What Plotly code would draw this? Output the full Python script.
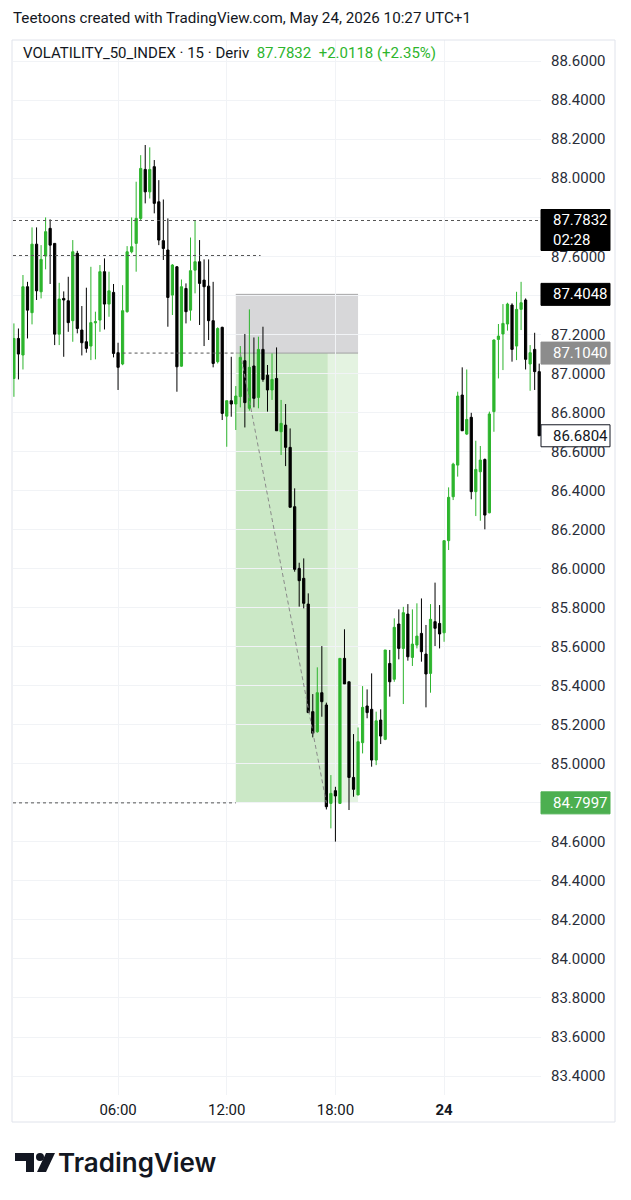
import plotly.graph_objects as go
import pandas as pd

# ---------------- data ----------------
START = "2026-05-23 00:15"
opens = [86.974, 87.179, 87.094, 87.444, 87.311, 87.662, 87.418, 87.601, 87.743, 87.666,
         87.201, 87.384, 87.372, 87.270, 87.615, 87.222, 87.162, 87.140, 87.259, 87.273,
         87.521, 87.355, 87.415, 87.106, 87.048, 87.316, 87.623, 87.666, 87.794, 88.045,
         87.930, 88.059, 87.879, 87.680, 87.632, 87.401, 87.546, 87.037, 87.435, 87.324,
         87.529, 87.572, 87.478, 87.447, 87.270, 87.060, 87.236, 86.781, 86.860, 86.843,
         86.881, 87.065, 86.821, 87.038, 86.877, 87.123, 86.991, 86.915, 86.974, 86.701,
         86.735, 86.621, 86.317, 86.001, 85.950, 85.818, 85.267, 85.164, 85.364, 85.301,
         84.797, 84.862, 84.797, 85.540, 85.420, 84.930, 84.840, 85.108, 85.296, 85.279,
         85.019, 85.224, 85.125, 85.514, 85.433, 85.716, 85.591, 85.767, 85.545, 85.608,
         85.668, 85.562, 85.463, 85.728, 85.719, 85.671, 86.143, 86.368, 86.530, 86.889,
         86.689, 86.775, 86.394, 86.496, 86.559, 86.286, 86.804, 87.174, 87.202, 87.253,
         87.350, 87.140, 87.328, 87.376, 87.048, 87.123, 87.009]
highs = [87.256, 87.230, 87.504, 87.469, 87.748, 87.748, 87.657, 87.799, 87.789, 87.666,
         87.464, 87.420, 87.495, 87.683, 87.628, 87.345, 87.439, 87.546, 87.316, 87.555,
         87.589, 87.521, 87.458, 87.157, 87.452, 87.652, 87.799, 87.982, 88.118, 88.170,
         88.158, 88.093, 87.990, 87.891, 87.794, 87.560, 87.550, 87.481, 87.461, 87.696,
         87.782, 87.683, 87.584, 87.584, 87.469, 87.236, 87.239, 86.860, 87.085, 86.935,
         87.140, 87.202, 87.328, 87.184, 87.188, 87.239, 87.043, 87.102, 87.133, 86.864,
         86.843, 86.718, 86.411, 86.030, 86.052, 85.873, 85.357, 85.494, 85.603, 85.313,
         84.942, 84.882, 85.540, 85.689, 85.420, 85.152, 85.186, 85.398, 85.381, 85.463,
         85.267, 85.279, 85.583, 85.583, 85.745, 85.791, 85.804, 85.818, 85.791, 85.822,
         85.847, 85.711, 85.818, 85.928, 85.813, 86.143, 86.416, 86.542, 86.906, 87.031,
         87.020, 86.798, 86.655, 86.628, 86.564, 86.804, 87.174, 87.253, 87.355, 87.362,
         87.359, 87.418, 87.469, 87.384, 87.145, 87.208, 87.050]
lows = [86.880, 86.969, 87.020, 87.179, 87.251, 87.376, 87.384, 87.533, 87.458, 87.145,
        87.145, 87.085, 87.213, 87.162, 87.205, 87.092, 87.106, 87.068, 87.072, 87.213,
        87.225, 87.290, 87.082, 86.915, 87.042, 87.311, 87.615, 87.521, 87.785, 87.871,
        87.896, 87.820, 87.657, 87.581, 87.239, 87.299, 86.906, 87.034, 87.256, 87.270,
        87.410, 87.248, 87.140, 87.171, 87.031, 87.051, 86.761, 86.624, 86.778, 86.710,
        86.826, 86.723, 86.809, 86.826, 86.821, 86.957, 86.804, 86.864, 86.706, 86.582,
        86.525, 86.314, 85.984, 85.805, 85.796, 85.262, 85.135, 85.159, 85.241, 84.766,
        84.669, 84.601, 84.797, 85.409, 84.763, 84.831, 84.840, 85.053, 85.233, 84.985,
        84.993, 85.101, 85.121, 85.344, 85.420, 85.535, 85.306, 85.528, 85.501, 85.591,
        85.523, 85.289, 85.364, 85.603, 85.591, 85.625, 86.095, 86.351, 86.471, 86.706,
        86.684, 86.355, 86.269, 86.245, 86.201, 86.283, 86.701, 86.974, 87.017, 87.219,
        87.060, 87.068, 87.222, 87.020, 86.911, 86.915, 86.680]
closes = [87.179, 87.099, 87.444, 87.324, 87.662, 87.423, 87.584, 87.726, 87.657, 87.201,
          87.381, 87.376, 87.260, 87.623, 87.230, 87.157, 87.128, 87.260, 87.265, 87.521,
          87.355, 87.423, 87.102, 87.031, 87.321, 87.623, 87.649, 87.794, 88.050, 87.930,
          88.045, 87.871, 87.683, 87.640, 87.389, 87.555, 87.034, 87.444, 87.316, 87.526,
          87.572, 87.461, 87.444, 87.270, 87.051, 87.230, 86.795, 86.860, 86.843, 86.884,
          87.082, 86.850, 87.031, 86.872, 87.123, 86.969, 86.915, 86.969, 86.706, 86.744,
          86.621, 86.314, 85.996, 85.938, 85.822, 85.262, 85.156, 85.364, 85.318, 84.780,
          84.848, 84.835, 85.540, 85.409, 84.930, 84.869, 85.113, 85.289, 85.262, 85.019,
          85.220, 85.142, 85.583, 85.420, 85.699, 85.591, 85.774, 85.548, 85.613, 85.654,
          85.574, 85.460, 85.740, 85.694, 85.665, 86.143, 86.365, 86.535, 86.884, 86.706,
          86.764, 86.394, 86.508, 86.556, 86.274, 86.792, 87.171, 87.191, 87.256, 87.355,
          87.123, 87.328, 87.362, 87.072, 87.106, 87.009, 86.6804]

times = pd.date_range(START, periods=len(opens), freq="15min")

time_ticks = ["2026-05-23 06:00", "2026-05-23 12:00", "2026-05-23 18:00", "2026-05-24 00:00"]
time_tick_text = ["06:00", "12:00", "18:00", "<b>24</b>"]
price_ticks = [round(83.4 + 0.2 * i, 1) for i in range(27)]
price_tick_text = [f"{v:.4f}" for v in price_ticks]

X_RANGE = ["2026-05-23 00:12", "2026-05-24 05:21"]
Y_RANGE = [83.303, 88.708]

# position tool (short)
ENTRY = 87.1040
STOP = 87.4048
TARGET = 84.7997
POS_START = "2026-05-23 12:30"
POS_HIT = "2026-05-23 17:35"
POS_END = "2026-05-23 19:15"
TRADE_PATH_T = ["2026-05-23 12:45", "2026-05-23 17:30"]
TRADE_PATH_P = [ENTRY, TARGET]

LAST_LINE = 87.7832
LEVEL_A = 87.604
LEVEL_A_END = "2026-05-23 13:52"
ENTRY_LINE_START = "2026-05-23 06:15"

header = "Teetoons created with TradingView.com, May 24, 2026 10:27 UTC+1"
legend_symbol = "VOLATILITY_50_INDEX · 15 · Deriv"
legend_vals = "87.7832&nbsp;&nbsp;+2.0118 (+2.35%)"

# ---------------- style ----------------
UP = "#2db52d"
DOWN = "#000000"
FONT = "Roboto"
TXT = "#131722"
GRID = "#f1f3f6"

W, H = 631, 1200
PL, PR, PT, PB = 13, 541, 40, 1095


def px(x):
    return (x - PL) / (PR - PL)


def py(y):
    return (PB - y) / (PB - PT)


PPU = (PB - PT) / (Y_RANGE[1] - Y_RANGE[0])  # pixels per price unit

fig = go.Figure()

fig.add_trace(go.Scatter(
    x=TRADE_PATH_T, y=TRADE_PATH_P, mode="lines",
    line=dict(color="#8a8a8a", width=1, dash="4px,3px"),
    hoverinfo="skip", showlegend=False))

fig.add_trace(go.Candlestick(
    x=times, open=opens, high=highs, low=lows, close=closes,
    increasing=dict(line=dict(color=UP, width=1), fillcolor=UP),
    decreasing=dict(line=dict(color=DOWN, width=1), fillcolor=DOWN),
    whiskerwidth=0, showlegend=False, hoverinfo="skip"))

shapes = []
# position boxes
shapes.append(dict(type="rect", xref="x", yref="y", x0=POS_START, x1=POS_END, y0=ENTRY, y1=STOP,
                   fillcolor="#d7d7d9", line=dict(width=0), layer="below"))
shapes.append(dict(type="rect", xref="x", yref="y", x0=POS_START, x1=POS_HIT, y0=TARGET, y1=ENTRY,
                   fillcolor="#cbe8c6", line=dict(width=0), layer="below"))
shapes.append(dict(type="rect", xref="x", yref="y", x0=POS_HIT, x1=POS_END, y0=TARGET, y1=ENTRY,
                   fillcolor="#e4f3e1", line=dict(width=0), layer="below"))
shapes.append(dict(type="line", xref="x", yref="y", x0=POS_START, x1=POS_END, y0=STOP, y1=STOP,
                   line=dict(color="#a8a8aa", width=1), layer="below"))
shapes.append(dict(type="line", xref="x", yref="y", x0=POS_START, x1=POS_END, y0=ENTRY, y1=ENTRY,
                   line=dict(color="#a0a0a2", width=1), layer="below"))

# dotted lines
dot = dict(color="#555555", width=1, dash="dot")
shapes.append(dict(type="line", xref="paper", yref="y", x0=0, x1=1, y0=LAST_LINE, y1=LAST_LINE, line=dot))
shapes.append(dict(type="line", xref="x", yref="y", x0=X_RANGE[0], x1=LEVEL_A_END, y0=LEVEL_A, y1=LEVEL_A, line=dot))
shapes.append(dict(type="line", xref="x", yref="y", x0=ENTRY_LINE_START, x1=POS_START, y0=ENTRY, y1=ENTRY, line=dot))
shapes.append(dict(type="line", xref="x", yref="y", x0=X_RANGE[0], x1=POS_START, y0=TARGET, y1=TARGET, line=dot))

# outer frame
shapes.append(dict(type="rect", xref="paper", yref="paper", x0=px(12), x1=px(615), y0=py(1122), y1=py(40),
                   line=dict(color="#e0e3eb", width=1), fillcolor="rgba(0,0,0,0)"))

annotations = []

# price labels on the axis
labels = [
    (87.7832, "87.7832<br>02:28", "#000000", "#000000", "#ffffff", 11, 30),
    (87.4048, "87.4048", "#000000", "#000000", "#ffffff", 11, 11),
    (87.1040, "87.1040", "#8c8c8c", "#8c8c8c", "#ffffff", 11, 11),
    (86.6804, "86.6804", "#ffffff", "#131722", "#131722", 11, 11),
    (84.7997, "84.7997", "#4caf50", "#4caf50", "#ffffff", 11, 11),
]
for price, text, bg, border, fg, up, down in labels:
    shapes.append(dict(type="rect", xref="paper", yref="y", x0=px(541), x1=px(610),
                       y0=price - down / PPU, y1=price + up / PPU,
                       fillcolor=bg, line=dict(color=border, width=1)))
    two = "<br>" in text
    annotations.append(dict(xref="paper", yref="y", x=px(551), y=price + (up / PPU if two else 0),
                            yanchor="top" if two else "middle", yshift=1 if two else 0,
                            xanchor="left", text=text, showarrow=False, align="left",
                            font=dict(family=FONT, size=15, color=fg)))

# header and legend
annotations.append(dict(xref="paper", yref="paper", x=px(11), y=py(18), xanchor="left", yanchor="middle",
                        text=header, showarrow=False, font=dict(family=FONT, size=15.2, color=TXT)))
annotations.append(dict(xref="paper", yref="paper", x=px(21), y=py(53), xanchor="left", yanchor="middle",
                        text=f"{legend_symbol}&nbsp;&nbsp;<span style='color:{UP}'>{legend_vals}</span>",
                        showarrow=False, font=dict(family=FONT, size=15, color=TXT)))

# TradingView logo
logo_col = "#131722"
shapes.append(dict(type="path", xref="paper", yref="paper", fillcolor=logo_col, line=dict(width=0),
                   path=f"M {px(15)} {py(1153)} L {px(34)} {py(1153)} L {px(34)} {py(1172)} L {px(26)} {py(1172)} "
                        f"L {px(26)} {py(1161)} L {px(15)} {py(1161)} Z"))
shapes.append(dict(type="circle", xref="paper", yref="paper", fillcolor=logo_col, line=dict(width=0),
                   x0=px(36), x1=px(44), y0=py(1161), y1=py(1153)))
shapes.append(dict(type="path", xref="paper", yref="paper", fillcolor=logo_col, line=dict(width=0),
                   path=f"M {px(46)} {py(1153)} L {px(55)} {py(1153)} L {px(46)} {py(1172)} L {px(37)} {py(1172)} Z"))
annotations.append(dict(xref="paper", yref="paper", x=px(56), y=py(1162), xanchor="left", yanchor="middle",
                        text="TradingView", showarrow=False,
                        font=dict(family="Inter", size=26, color=logo_col, weight=600)))

fig.update_layout(
    width=W, height=H,
    margin=dict(l=PL, r=W - PR, t=PT, b=H - PB),
    paper_bgcolor="#ffffff", plot_bgcolor="#ffffff",
    showlegend=False,
    shapes=shapes, annotations=annotations,
    xaxis=dict(type="date", range=X_RANGE, rangeslider=dict(visible=False),
               tickvals=time_ticks, ticktext=time_tick_text,
               showgrid=True, gridcolor=GRID, gridwidth=1, zeroline=False, showline=False,
               ticks="", ticklabelstandoff=4, tickfont=dict(family=FONT, size=15, color=TXT)),
    yaxis=dict(side="right", range=Y_RANGE, tickvals=price_ticks, ticktext=price_tick_text,
               showgrid=True, gridcolor=GRID, gridwidth=1, zeroline=False, showline=False,
               ticks="", ticklabelstandoff=9, tickfont=dict(family=FONT, size=15, color="#2a2e39")),
)

fig.write_html("out.html", config={"displayModeBar": False},
               post_script="document.body.style.margin='0px';document.body.style.padding='0px';")
